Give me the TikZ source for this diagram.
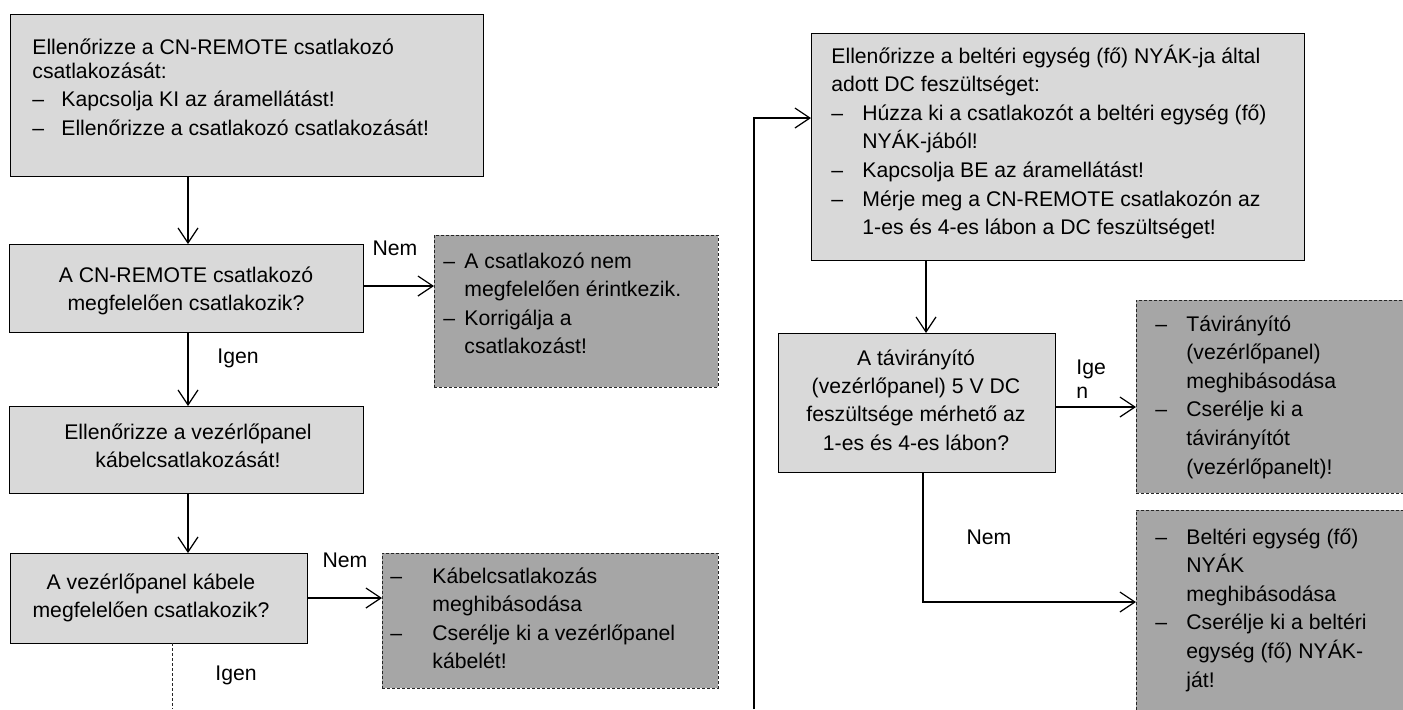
\documentclass[tikz,border=0pt]{standalone}
\usepackage{fontspec}
\setmainfont{Liberation Sans}
\usetikzlibrary{arrows.meta}
\definecolor{lightbox}{HTML}{D9D9D9}
\definecolor{darkbox}{HTML}{A6A6A6}
\newcommand{\dsh}[1]{\makebox[#1][l]{–}}
\newcommand{\ind}[1]{\hspace*{#1}}
\newcommand{\toplines}[1]{\begin{tabular}[t]{@{}l@{}}#1\end{tabular}}
\begin{document}
\begin{tikzpicture}[x=0.5pt,y=-0.5pt,
  solidbox/.style={draw=black, line width=0.5pt, fill=lightbox, inner sep=0pt, outer sep=0pt, anchor=north west},
  dashbox/.style={draw=black!85, line width=0.5pt, dash pattern=on 1.5pt off 1pt, fill=darkbox, inner sep=0pt, outer sep=0pt, anchor=north west},
  txt/.style={font=\fontsize{10.6}{14.3}\selectfont, inner sep=0pt, anchor=base west},
  ctxt/.style={font=\fontsize{10.6}{14.2}\selectfont, inner sep=0pt, align=center},
  lbl/.style={font=\fontsize{10.6}{12}\selectfont, inner sep=0pt},
  arr/.style={line width=0.6pt, -{Straight Barb[length=7.5pt,width=10pt]}},
  dline/.style={line width=0.45pt, dash pattern=on 1.5pt off 1pt, draw=black!85},
]
\useasboundingbox (0,0) rectangle (1403,709);
\clip (0,0) rectangle (1403,709);

% boxes
\node[solidbox, minimum width=236.5pt, minimum height=81pt] (b1) at (10,14) {};
\node[solidbox, minimum width=177pt, minimum height=44pt] (b2) at (9,244) {};
\node[dashbox, minimum width=142pt, minimum height=76pt] (d3) at (434,235) {};
\node[solidbox, minimum width=177pt, minimum height=43.5pt] (b3) at (9,406) {};
\node[solidbox, minimum width=148.5pt, minimum height=45pt] (b4) at (10,553) {};
\node[dashbox, minimum width=168pt, minimum height=67.5pt] (d5) at (382,553) {};
\node[solidbox, minimum width=246.5pt, minimum height=113.5pt] (b6) at (811,33) {};
\node[solidbox, minimum width=138.5pt, minimum height=69.5pt] (b7) at (778,333) {};
\node[dashbox, minimum width=137pt, minimum height=96.5pt] (d8) at (1136,300) {};
\node[dashbox, minimum width=137pt, minimum height=105pt] (d9) at (1136,510) {};

% texts
\node[txt] (t1) at (32,54) {\toplines{Ellenőrizze a CN-REMOTE csatlakozó\\[-2.2pt]
csatlakozását:\\
\dsh{14.5pt}Kapcsolja KI az áramellátást!\\
\dsh{14.5pt}Ellenőrizze a csatlakozó csatlakozását!}};
\node[ctxt] (t2) at (186,291) {A CN-REMOTE csatlakozó\\megfelelően csatlakozik?};
\node[txt] (t3) at (443,268) {\toplines{\dsh{10.5pt}A csatlakozó nem\\
\ind{10.5pt}megfelelően érintkezik.\\
\dsh{10.5pt}Korrigálja a\\
\ind{10.5pt}csatlakozást!}};
\node[ctxt] (t4) at (188,446) {Ellenőrizze a vezérlőpanel\\kábelcsatlakozását!};
\node[ctxt] (t5) at (151,598) {A vezérlőpanel kábele\\megfelelően csatlakozik?};
\node[txt] (t6) at (390,583) {\toplines{\dsh{21pt}Kábelcsatlakozás\\
\ind{21pt}meghibásodása\\
\dsh{21pt}Cserélje ki a vezérlőpanel\\
\ind{21pt}kábelét!}};
\node[txt] (t7) at (831,63) {\toplines{Ellenőrizze a beltéri egység (fő) NYÁK-ja által\\
adott DC feszültséget:\\
\dsh{15.5pt}Húzza ki a csatlakozót a beltéri egység (fő)\\
\ind{15.5pt}NYÁK-jából!\\
\dsh{15.5pt}Kapcsolja BE az áramellátást!\\
\dsh{15.5pt}Mérje meg a CN-REMOTE csatlakozón az\\
\ind{15.5pt}1-es és 4-es lábon a DC feszültséget!}};
\node[ctxt] (t8) at (916,400) {A távirányító\\(vezérlőpanel) 5 V DC\\feszültsége mérhető az\\1-es és 4-es lábon?};
\node[txt] (t9) at (1155,331) {\toplines{\dsh{15.5pt}Távirányító\\
\ind{15.5pt}(vezérlőpanel)\\
\ind{15.5pt}meghibásodása\\
\dsh{15.5pt}Cserélje ki a\\
\ind{15.5pt}távirányítót\\
\ind{15.5pt}(vezérlőpanelt)!}};
\node[txt] (t10) at (1155,544) {\toplines{\dsh{15.5pt}Beltéri egység (fő)\\
\ind{15.5pt}NYÁK\\
\ind{15.5pt}meghibásodása\\
\dsh{15.5pt}Cserélje ki a beltéri\\
\ind{15.5pt}egység (fő) NYÁK-\\
\ind{15.5pt}ját!}};

% labels
\node[lbl] (n1) at (395,248) {Nem};
\node[lbl] (i1) at (238,358) {Igen};
\node[lbl] (n2) at (345,560) {Nem};
\node[lbl] (i2) at (236,675) {Igen};
\node[lbl, anchor=base west] (i3) at (1076,374) {\begin{tabular}[t]{@{}l@{}}Ige\\n\end{tabular}};
\node[lbl] (n3) at (989,537) {Nem};

% helper coordinates
\coordinate (c1) at (188,0);
\coordinate (c2) at (172,709);
\coordinate (c3) at (926,0);
\coordinate (c4) at (923,0);
\coordinate (r1) at (0,286);
\coordinate (r3) at (0,118);
\coordinate (r4) at (0,407);
\coordinate (r5) at (0,602);
\coordinate (lb) at (754,709);

% connectors
\draw[arr] (c1 |- b1.south) -- (c1 |- b2.north);
\draw[arr] (r1 -| b2.east) -- (r1 -| d3.west);
\draw[arr] (c1 |- b2.south) -- (c1 |- b3.north);
\draw[arr] (c1 |- b3.south) -- (c1 |- b4.north);
\draw[arr] (b4.east) -- (b4.east -| d5.west);
\draw[dline] (c2 |- b4.south) -- (c2);
\draw[arr] (lb) |- (r3 -| b6.west);
\draw[arr] (c3 |- b6.south) -- (c3 |- b7.north);
\draw[arr] (r4 -| b7.east) -- (r4 -| d8.west);
\draw[arr] (c4 |- b7.south) |- (r5 -| d9.west);
\end{tikzpicture}
\end{document}
